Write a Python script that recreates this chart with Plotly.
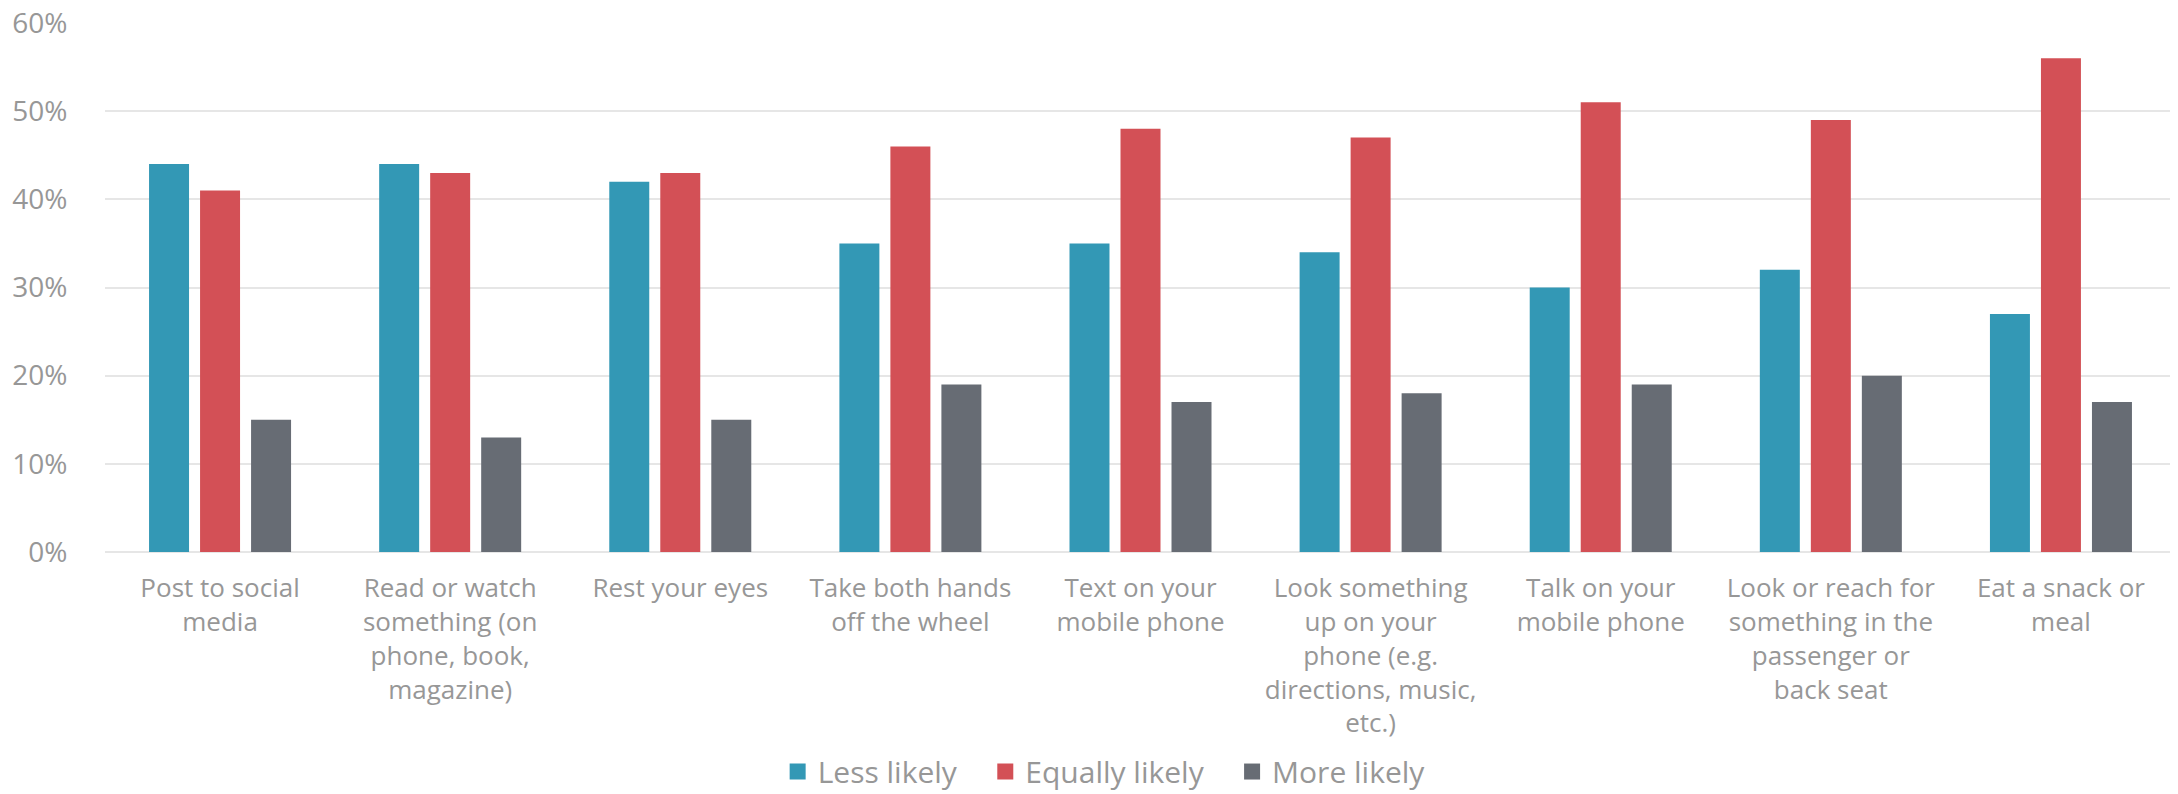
import plotly.graph_objects as go

categories = [
    "Post to social media",
    "Read or watch something (on phone, book, magazine)",
    "Rest your eyes",
    "Take both hands off the wheel",
    "Text on your mobile phone",
    "Look something up on your phone (e.g. directions, music, etc.)",
    "Talk on your mobile phone",
    "Look or reach for something in the passenger or back seat",
    "Eat a snack or meal",
]
tick_labels = [
    "Post to social<br>media",
    "Read or watch<br>something (on<br>phone, book,<br>magazine)",
    "Rest your eyes",
    "Take both hands<br>off the wheel",
    "Text on your<br>mobile phone",
    "Look something<br>up on your<br>phone (e.g.<br>directions, music,<br>etc.)",
    "Talk on your<br>mobile phone",
    "Look or reach for<br>something in the<br>passenger or<br>back seat",
    "Eat a snack or<br>meal",
]
less_likely = [44, 44, 42, 35, 35, 34, 30, 32, 27]
equally_likely = [41, 43, 43, 46, 48, 47, 51, 49, 56]
more_likely = [15, 13, 15, 19, 17, 18, 19, 20, 17]
series_names = ["Less likely", "Equally likely", "More likely"]
colors = ["#3398B5", "#D35056", "#676C74"]
y_ticks = [0, 10, 20, 30, 40, 50, 60]
y_tick_labels = ["0%", "10%", "20%", "30%", "40%", "50%", "60%"]

FONT = "Open Sans"
TEXT = "#979797"
GRID = "#E6E6E6"
PAD = "\u00a0\u00a0\u00a0"

fig = go.Figure()
for name, vals, col in zip(series_names, [less_likely, equally_likely, more_likely], colors):
    fig.add_trace(go.Bar(x=categories, y=vals, name=name, marker_color=col,
                         marker_line_width=0, showlegend=False))
    fig.add_trace(go.Scatter(x=[None], y=[None], mode="markers", name=name + PAD,
                             marker=dict(symbol="square", size=16, color=col),
                             showlegend=True))

# page body has an 8px default margin, so the figure is 8px smaller each way
fig.update_layout(
    width=2170, height=786,
    margin=dict(l=97, r=2, t=15, b=242, autoexpand=False),
    paper_bgcolor="white", plot_bgcolor="white",
    barmode="group", bargap=0.335, bargroupgap=0.216,
    font=dict(family=FONT, color=TEXT),
    legend=dict(orientation="h", x=0.488, xanchor="center", y=-0.415, yanchor="middle",
                font=dict(size=30, color=TEXT, family=FONT), itemwidth=30,
                traceorder="normal"),
)
fig.update_xaxes(
    tickmode="array", tickvals=categories, ticktext=tick_labels,
    tickfont=dict(size=26, color=TEXT, family=FONT),
    ticks="outside", ticklen=13, tickcolor="rgba(0,0,0,0)",
    showgrid=False, showline=False, tickangle=0, automargin=False,
    ticklabeloverflow="allow",
)
fig.update_yaxes(
    range=[0, 60], tickmode="array", tickvals=y_ticks, ticktext=y_tick_labels,
    tickfont=dict(size=28, color=TEXT, family=FONT),
    ticks="outside", ticklen=31, tickcolor="rgba(0,0,0,0)",
    showgrid=True, gridcolor=GRID, gridwidth=2,
    zeroline=True, zerolinecolor=GRID, zerolinewidth=2, showline=False, automargin=False,
    ticklabeloverflow="allow",
)

fig.write_html("out.html")
